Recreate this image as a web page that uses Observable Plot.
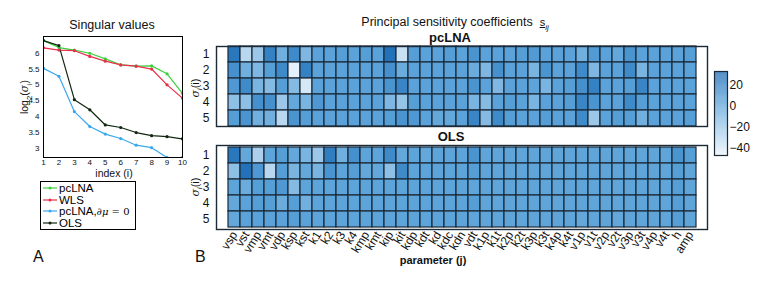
<!DOCTYPE html>
<html><head><meta charset="utf-8">
<script src="https://cdn.jsdelivr.net/npm/d3@7"></script>
<script src="https://cdn.jsdelivr.net/npm/@observablehq/plot@0.6"></script>
<style>
body{margin:0;background:#fff;font-family:"Liberation Sans",Arial,sans-serif;}
#root{position:relative;width:776px;height:288px;overflow:hidden;background:#fff;}
#root > *{position:absolute;}
.t{white-space:nowrap;color:#111;}
</style></head><body><div id="root"></div>
<script>
// ---------- Panel A data ----------
const indexI = [1,2,3,4,5,6,7,8,9,10];
const svPcLNA  = [6.40,6.18,6.10,6.00,5.82,5.63,5.59,5.60,5.35,4.73];
const svWLS    = [6.17,6.10,6.08,5.90,5.75,5.63,5.59,5.50,5.00,4.58];
const svPcLNA0 = [5.52,5.27,4.15,3.68,3.44,3.30,3.09,3.01,2.70,2.70];
const svOLS    = [6.40,6.24,4.53,4.21,3.73,3.65,3.49,3.39,3.36,3.29];
const seriesNames  = ["pcLNA","WLS","pcLNA0","OLS"];
const seriesColors = ["#3fd03f","#e8304a","#3aa8ef","#102810"];
const yTicksA = [3,3.5,4,4.5,5,5.5,6];

// ---------- Panel B data ----------
const params = ["vsp","vst","vmp","vmt","vdp","ksp","kst","k1","k2","k3","k4","kmp","kmt","kip","kit","kdp","kdt","kd","kdc","kdn","vdt","k1p","k1t","k2p","k2t","k3p","k3t","k4p","k4t","v1p","v1t","v2p","v2t","v3p","v3t","v4p","v4t","h","amp"];
const sigmaRows = [1,2,3,4,5];
const sPcLNA1 = [25,-30,-20,20,-5,15,-10,3,3,5,3,5,3,28,-35,5,3,3,5,3,10,3,3,3,5,7,3,3,3,-5,7,3,0,10,3,3,3,3,5];
const sPcLNA2 = [12,-5,-10,5,15,-45,20,3,3,3,3,3,3,12,-3,3,3,3,3,3,-3,-10,12,3,3,-8,10,3,3,15,-10,3,3,15,-8,3,3,3,3];
const sPcLNA3 = [8,15,-8,-12,5,-12,-40,3,3,3,3,3,3,10,18,3,3,3,3,3,10,3,-10,3,3,2,-8,3,5,12,20,3,3,5,18,3,3,3,3];
const sPcLNA4 = [-15,-15,12,12,-20,0,-8,8,3,3,3,3,3,-10,-18,5,3,3,3,3,-8,-12,3,5,3,-8,3,3,5,18,10,3,3,15,5,3,3,3,3];
const sPcLNA5 = [5,10,-5,-5,-30,10,5,3,3,3,3,3,3,5,10,8,3,0,0,3,18,-12,15,5,3,3,5,3,3,15,-20,3,5,5,-5,3,3,3,5];
const sOLS1 = [25,0,-25,2,5,0,-8,-20,22,-5,12,2,2,15,0,2,0,2,2,2,10,1,1,1,1,1,1,1,1,1,1,1,1,1,1,1,1,10,5];
const sOLS2 = [-15,28,8,-30,5,-8,0,-8,10,2,5,0,0,-15,15,2,2,2,2,2,5,1,1,1,1,1,1,1,1,1,1,1,1,1,1,1,1,5,1];
const sOLS3 = [2,-3,5,5,8,-12,2,2,2,2,2,2,2,2,2,2,2,2,2,2,1,1,1,1,1,1,1,1,1,1,1,1,1,1,1,1,1,5,1];
const sOLS4 = [0,3,5,5,-3,5,-5,2,2,2,2,2,2,2,2,2,2,2,2,2,5,1,1,1,1,1,1,1,1,1,1,1,1,1,1,1,1,5,1];
const sOLS5 = [0,3,3,3,3,5,3,2,2,2,2,2,2,2,2,2,2,2,2,2,1,1,1,1,1,1,1,1,1,0,1,1,0,1,1,1,1,5,1];
const colorTicks = [-40,-20,0,20];
const colorDomain = [-47,3,33];
const colorRange = ["#eaf3fb","#5aa2d9","#1767b2"];

const root = document.getElementById("root");
function place(el, left, top){ el.style.left = left+"px"; el.style.top = top+"px"; root.appendChild(el); return el; }
function text(html, left, top, css){ const d=document.createElement("div"); d.className="t"; d.innerHTML=html; d.style.cssText += css||""; return place(d,left,top); }

// ---------- Panel A ----------
const sv = [svPcLNA, svWLS, svPcLNA0, svOLS];
const lineData = seriesNames.flatMap((s,k)=> indexI.map((x,i)=>({s, x, y: sv[k][i]})));
const colorA = {domain: seriesNames, range: seriesColors};
const plotA = Plot.plot({
  width: 200, height: 180, marginLeft: 43, marginRight: 18, marginTop: 36, marginBottom: 23,
  style: {fontFamily: "Liberation Sans, Arial, sans-serif", fontSize: "8px", color:"#111", background:"transparent"},
  x: {domain: [1,10], ticks: indexI, tickSize: 0, tickPadding: 2, label: null},
  y: {domain: [2.7,6.53], ticks: yTicksA, tickSize: 0, tickPadding: 4, label: null, tickFormat: d=>String(d)},
  color: colorA,
  marks: [
    Plot.line(lineData, {x:"x", y:"y", z:"s", stroke:"s", strokeWidth: 1.2, clip: true}),
    Plot.dot(lineData, {x:"x", y:"y", fill:"s", r: 1.6, clip: true}),
    Plot.frame({stroke:"#000", strokeWidth: 1})
  ]
});
place(plotA, 0, 0);
text("Singular values", 112, 18, "font-size:12.5px;transform:translateX(-50%);");
text("index (i)", 114, 168, "font-size:10.5px;line-height:11px;transform:translateX(-50%);");
text("log<sub style='font-size:8px'>2</sub>(<i style='font-family:DejaVu Serif,serif'>σ</i><sub style='font-size:7px'>i</sub>)", 26, 97, "font-size:10.5px;transform:translate(-50%,-50%) rotate(-90deg);");

// Legend (panel A)
const leg = document.createElement("div");
leg.style.cssText = "width:94px;height:47px;border:1px solid #000;background:#fff;";
place(leg, 40, 181);
const legLabels = ["pcLNA","WLS","pcLNA,<i style='font-family:DejaVu Serif,serif;font-size:10px'>∂μ</i> <span style='font-family:DejaVu Serif,serif;font-size:10px'>= 0</span>","OLS"];
legLabels.forEach((lab,k)=>{
  const row = document.createElement("div");
  row.style.cssText = "position:absolute;left:1px;top:"+(k*11.7)+"px;height:12px;display:flex;align-items:center;font-size:11.5px;line-height:12px;";
  row.innerHTML = "<svg width='16' height='6' style='margin-right:1px'><line x1='1' y1='3' x2='15' y2='3' stroke='"+seriesColors[k]+"' stroke-width='1.2'/><circle cx='8' cy='3' r='1.5' fill='"+seriesColors[k]+"'/></svg><span>"+lab+"</span>";
  leg.appendChild(row);
});
text("A", 33, 248, "font-size:16px;");

// ---------- Panel B ----------
function table(rowsArr){ return sigmaRows.flatMap((r,i)=> params.map((p,j)=>({param:p, row:r, v: rowsArr[i][j]}))); }
const tPc = table([sPcLNA1,sPcLNA2,sPcLNA3,sPcLNA4,sPcLNA5]);
const tOls = table([sOLS1,sOLS2,sOLS3,sOLS4,sOLS5]);
const colorB = {type:"linear", domain: colorDomain, range: colorRange};
function heat(data, showX, mt, mb, h){
  return Plot.plot({
    width: 540, height: h, marginLeft: 36, marginRight: 13, marginTop: mt, marginBottom: mb,
    style: {fontFamily: "Liberation Sans, Arial, sans-serif", fontSize: "12px", color:"#111", background:"transparent"},
    x: {domain: params, padding: 0, axis: showX ? "bottom" : null, tickSize: 0, tickPadding: 3, tickRotate: -58, label: null},
    y: {domain: sigmaRows, padding: 0, tickSize: 0, tickPadding: 7, label: null},
    color: colorB,
    marks: [
      Plot.cell(data, {x:"param", y:"row", fill:"v", stroke:"#1c2a38", strokeWidth: 1.2, inset: 0}),
      Plot.frame({stroke:"#1c2a38", strokeWidth: 1.4})
    ]
  });
}
place(heat(tPc, false, 16, 4, 100), 180, 30);
place(heat(tOls, true, 15, 51, 150), 180, 130);

text("Principal sensitivity coefficients &nbsp;<u style='font-size:11px'>s</u><sub style='font-size:8px'><i>ij</i></sub>", 455, 15, "font-size:12.5px;transform:translateX(-50%);");
text("pcLNA", 450, 30, "font-size:13px;font-weight:bold;transform:translateX(-50%);");
text("OLS", 451, 129, "font-size:13px;font-weight:bold;transform:translateX(-50%);");
const sigLab = "<i style='font-family:DejaVu Serif,serif'>σ</i><sub style='font-size:7px'><i>i</i></sub>(i)";
text(sigLab, 196, 88, "font-size:11px;transform:translate(-50%,-50%) rotate(-90deg);");
text(sigLab, 196, 187, "font-size:11px;transform:translate(-50%,-50%) rotate(-90deg);");
text("parameter (j)", 433, 254, "font-size:11px;font-weight:bold;transform:translateX(-50%);");
text("B", 195, 248, "font-size:16px;");

// Colorbar
const barSteps = d3.range(colorDomain[0], colorDomain[2], 0.5);
const bar = Plot.plot({
  width: 60, height: 100, marginLeft: 14, marginRight: 33, marginTop: 11, marginBottom: 5,
  style: {fontFamily: "Liberation Sans, Arial, sans-serif", fontSize: "12px", color:"#111", background:"transparent"},
  x: {domain: [0,1], axis: null},
  y: {domain: [colorDomain[0], colorDomain[2]], axis: "right", ticks: colorTicks, tickSize: 0, tickPadding: 2, label: null},
  color: colorB,
  marks: [
    Plot.rect(barSteps, {x1: 0, x2: 1, y1: d=>d, y2: d=>d+0.5, fill: d=>d+0.25}),
    Plot.frame({stroke:"#1c2a38", strokeWidth: 1.2})
  ]
});
place(bar, 700, 60);
</script></body></html>
